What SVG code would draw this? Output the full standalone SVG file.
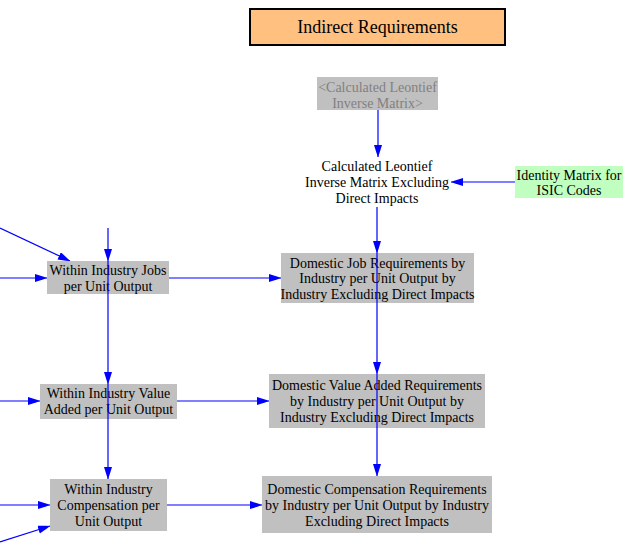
<svg xmlns="http://www.w3.org/2000/svg" width="629" height="556" viewBox="0 0 629 556">
<defs>
<marker id="ah" markerUnits="userSpaceOnUse" markerWidth="13" markerHeight="10" refX="12" refY="4" orient="auto">
<path d="M0,0 L8,2.5 L12,4 L8,5.5 L0,8 z" fill="#0000FF"/>
</marker>
<style>
.t{font-family:"Liberation Serif","Times New Roman",serif;font-size:14px;fill:#000;text-anchor:middle}
.g{fill:#C0C0C0}
.e{stroke:#0000FF;stroke-width:1.2;fill:none;marker-end:url(#ah)}
.l{stroke:#0000FF;stroke-width:1.2;fill:none}
</style>
</defs>
<rect width="629" height="556" fill="#fff"/>
<g id="title">
<rect x="250" y="9" width="255" height="36" fill="#FFC080" stroke="#000" stroke-width="2"/>
<text x="377.5" y="33" class="t" style="font-size:18px">Indirect Requirements</text>
</g>
<g id="connectors">
<path class="e" d="M378,110 L378,157"/>
<path class="e" d="M515,182 L451,182"/>
<path class="e" d="M377,207 L377,253"/>
<path class="e" d="M377,303 L377,374"/>
<path class="e" d="M377,428 L377,476"/>
<path class="e" d="M169,278 L281,278"/>
<path class="e" d="M177,401 L269,401"/>
<path class="e" d="M167,505 L262,505"/>
<path class="e" d="M108,228 L108,261"/>
<path class="e" d="M108,294 L108,384"/>
<path class="e" d="M108,419 L108,479"/>
<path class="e" d="M0,278 L47,278"/>
<path class="e" d="M0,228 L70,261"/>
<path class="e" d="M0,401 L40,401"/>
<path class="e" d="M0,505 L50,505"/>
<path class="e" d="M0,542 L50,526"/>
</g>
<g id="leontief">
<rect x="317" y="77" width="121" height="33" class="g"/>
<text x="377.5" y="92" class="t" style="fill:#808080">&lt;Calculated Leontief</text>
<text x="377.5" y="108" class="t" style="fill:#808080">Inverse Matrix&gt;</text>
</g>
<g id="leontief_excl">
<text x="377" y="171" class="t">Calculated Leontief</text>
<text x="377" y="187" class="t">Inverse Matrix Excluding</text>
<text x="377" y="203" class="t">Direct Impacts</text>
</g>
<g id="identity">
<rect x="515" y="166" width="108" height="32" fill="#C0FFC0"/>
<text x="569" y="180" class="t">Identity Matrix for</text>
<text x="569" y="195" class="t">ISIC Codes</text>
</g>
<g id="dom_jobs">
<rect x="281" y="253" width="193" height="50" class="g"/>
<text x="377.5" y="268" class="t">Domestic Job Requirements by</text>
<text x="377.5" y="283" class="t">Industry per Unit Output by</text>
<text x="377.5" y="299" class="t">Industry Excluding Direct Impacts</text>
</g>
<g id="dom_va">
<rect x="269" y="374" width="216" height="54" class="g"/>
<text x="377" y="390" class="t">Domestic Value Added Requirements</text>
<text x="377" y="406" class="t">by Industry per Unit Output by</text>
<text x="377" y="422" class="t">Industry Excluding Direct Impacts</text>
</g>
<g id="dom_comp">
<rect x="262" y="476" width="230" height="57" class="g"/>
<text x="377" y="494" class="t">Domestic Compensation Requirements</text>
<text x="377" y="510" class="t">by Industry per Unit Output by Industry</text>
<text x="377" y="526" class="t">Excluding Direct Impacts</text>
</g>
<g id="within_jobs">
<rect x="47" y="261" width="122" height="33" class="g"/>
<text x="108" y="275" class="t">Within Industry Jobs</text>
<text x="108" y="291" class="t">per Unit Output</text>
</g>
<g id="within_va">
<rect x="40" y="384" width="137" height="35" class="g"/>
<text x="108.5" y="398" class="t">Within Industry Value</text>
<text x="108.5" y="414" class="t">Added per Unit Output</text>
</g>
<g id="within_comp">
<rect x="50" y="479" width="117" height="52" class="g"/>
<text x="108.5" y="494" class="t">Within Industry</text>
<text x="108.5" y="510" class="t">Compensation per</text>
<text x="108.5" y="526" class="t">Unit Output</text>
</g>
<g id="passthrough">
<path class="l" d="M108,261 L108,294 M108,384 L108,419 M377,253 L377,303 M377,374 L377,428"/>
</g>
</svg>
